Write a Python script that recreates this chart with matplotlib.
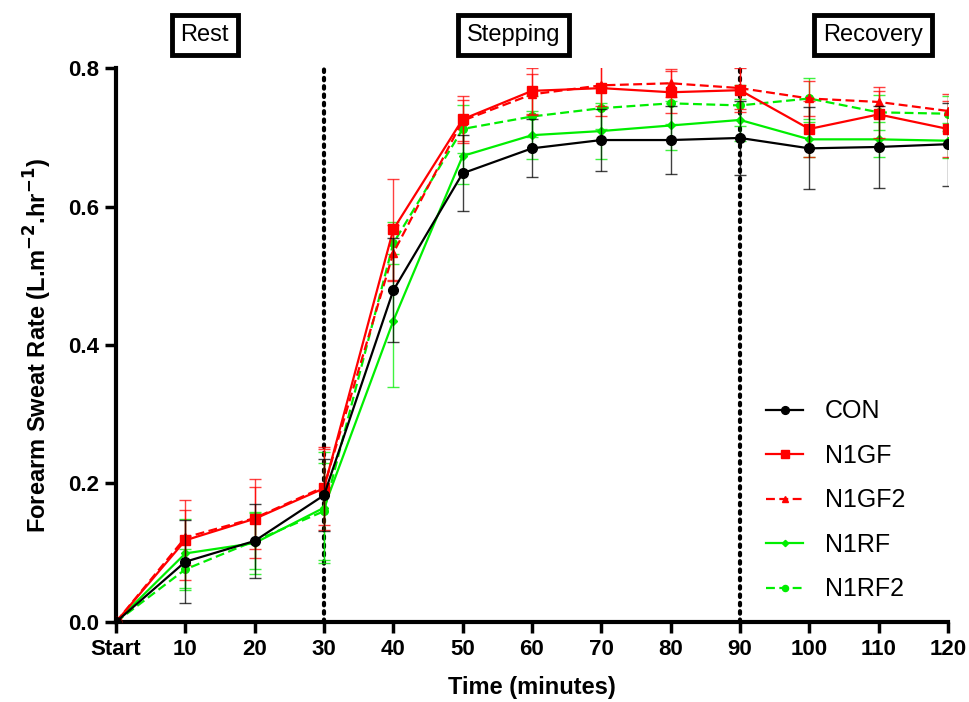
import matplotlib
matplotlib.use("Agg")
import matplotlib.pyplot as plt
import numpy as np

plt.rcParams['font.family'] = ['Liberation Sans', 'DejaVu Sans']

# Sampling times (minutes) and their tick labels
times = [0, 10, 20, 30, 40, 50, 60, 70, 80, 90, 100, 110, 120]
tick_labels = ["Start", "10", "20", "30", "40", "50", "60", "70", "80", "90", "100", "110", "120"]

# Mean forearm sweat rate per condition
con = [0.0, 0.087, 0.117, 0.183, 0.479, 0.648, 0.684, 0.696, 0.696, 0.699, 0.684, 0.686, 0.690]
n1gf = [0.0, 0.118, 0.149, 0.193, 0.567, 0.726, 0.767, 0.771, 0.765, 0.768, 0.712, 0.733, 0.712]
n1gf2 = [0.0, 0.122, 0.150, 0.195, 0.533, 0.724, 0.762, 0.775, 0.778, 0.771, 0.756, 0.751, 0.738]
n1rf = [0.0, 0.099, 0.114, 0.165, 0.435, 0.673, 0.703, 0.709, 0.717, 0.725, 0.697, 0.697, 0.695]
n1rf2 = [0.0, 0.076, 0.117, 0.160, 0.547, 0.712, 0.730, 0.742, 0.749, 0.746, 0.756, 0.736, 0.734]

# Standard errors
con_err = [0.0, 0.060, 0.053, 0.052, 0.075, 0.055, 0.042, 0.045, 0.049, 0.054, 0.059, 0.059, 0.060]
n1gf_err = [0.0, 0.058, 0.057, 0.060, 0.073, 0.034, 0.033, 0.040, 0.030, 0.032, 0.040, 0.034, 0.040]
n1gf2_err = [0.0, 0.040, 0.045, 0.055, 0.040, 0.030, 0.030, 0.030, 0.020, 0.030, 0.025, 0.022, 0.025]
n1rf_err = [0.0, 0.050, 0.045, 0.080, 0.096, 0.040, 0.035, 0.040, 0.035, 0.030, 0.025, 0.025, 0.025]
n1rf2_err = [0.0, 0.030, 0.040, 0.070, 0.030, 0.035, 0.030, 0.030, 0.030, 0.030, 0.030, 0.025, 0.025]

fig = plt.figure(figsize=(9.7, 7.02), dpi=100)
ax = fig.add_axes([0.1196, 0.114, 0.8577, 0.7891])

series = [
    ("CON", con, con_err, "black", "-", "o", 7, 6),
    ("N1GF", n1gf, n1gf_err, "#ff0000", "-", "s", 6.5, 5),
    ("N1GF2", n1gf2, n1gf2_err, "#ff0000", (0, (4, 2)), "^", 6, 4),
    ("N1RF", n1rf, n1rf_err, "#00ee00", "-", "D", 4, 3),
    ("N1RF2", n1rf2, n1rf2_err, "#00ee00", (0, (4, 2)), "o", 5.5, 2),
]

handles = []
for name, y, e, col, ls, mk, ms, z in series:
    ax.errorbar(times, y, yerr=e, fmt="none", ecolor=col, elinewidth=1.0,
                capsize=4.5, capthick=1.0, alpha=0.75, zorder=z)
    h, = ax.plot(times, y, color=col, linestyle=ls, linewidth=1.6,
                 marker=mk, markersize=ms, zorder=z + 0.5, label=name)
    handles.append(h)

# Phase boundaries
for xv in (30, 90):
    ax.plot([xv, xv], [0, 0.8], color="black", linewidth=3,
            linestyle=(0, (0.6, 1.4)), dash_capstyle="round", zorder=1, clip_on=False)

ax.set_xlim(0, 120)
ax.set_ylim(0, 0.8)
ax.set_xticks(times)
ax.set_xticklabels(tick_labels)
ax.set_yticks([0.0, 0.2, 0.4, 0.6, 0.8])
ax.set_yticklabels(["0.0", "0.2", "0.4", "0.6", "0.8"])

for s in ("top", "right"):
    ax.spines[s].set_visible(False)
for s in ("left", "bottom"):
    ax.spines[s].set_linewidth(3)
ax.tick_params(axis="both", direction="out", length=8, width=2.5, labelsize=16, pad=4)
for lbl in ax.get_xticklabels() + ax.get_yticklabels():
    lbl.set_fontweight("bold")

ax.set_xlabel("Time (minutes)", fontsize=17, fontweight="bold", labelpad=12)
ax.set_ylabel(r"Forearm Sweat Rate (L.m$^{\mathbf{-2}}$.hr$^{\mathbf{-1}}$)",
              fontsize=17, fontweight="bold", labelpad=10)

# Phase labels
for label, xc in (("Rest", 12.8), ("Stepping", 57.3), ("Recovery", 109.2)):
    ax.text(xc, 0.848, label, ha="center", va="center", fontsize=17,
            clip_on=False,
            bbox=dict(boxstyle="square,pad=0.38", facecolor="white",
                      edgecolor="black", linewidth=3.5))

leg = ax.legend(handles=handles, loc="upper left", bbox_to_anchor=(0.769, 0.42),
                frameon=False, fontsize=18, handlelength=1.5, handletextpad=0.85,
                labelspacing=0.82, markerscale=0.8, borderaxespad=0)

fig.savefig("out.png", dpi=100)
